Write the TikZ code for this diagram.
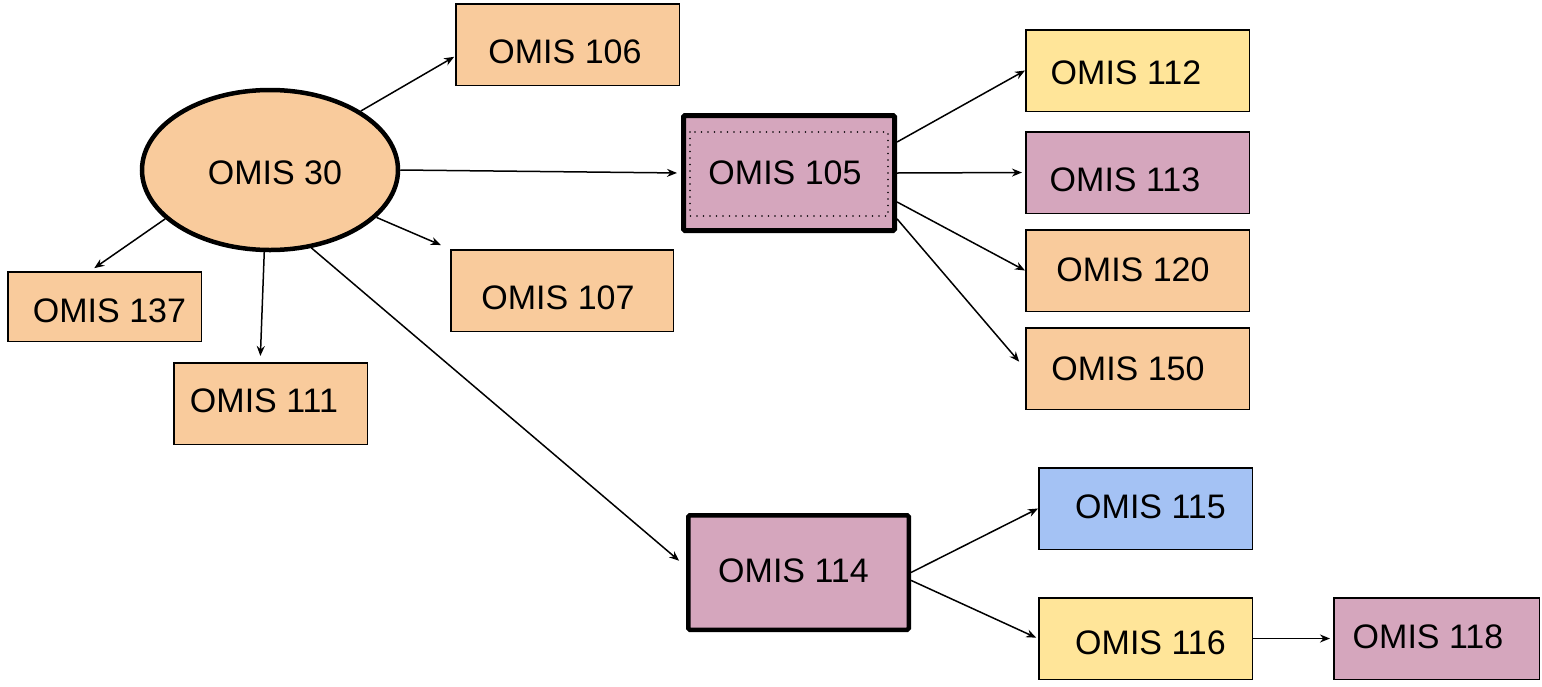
\documentclass[tikz,border=0pt]{standalone}
\usepackage{fontspec}
\setmainfont{Liberation Sans}
\usetikzlibrary{shapes.geometric,arrows.meta,calc}
\definecolor{corange}{HTML}{F9CB9C}
\definecolor{cpurple}{HTML}{D5A6BD}
\definecolor{cyellow}{HTML}{FFE599}
\definecolor{cblue}{HTML}{A4C2F4}
\newcommand{\tx}[3]{\raisebox{\dimexpr-12.2pt-#2pt\relax}[0pt][0pt]{\makebox[0pt]{\kern#1pt\kern#1pt #3}}}
\tikzset{
  box/.style={draw=black, line width=1.5pt, inner sep=0pt, minimum width=223.5pt, minimum height=81.5pt},
  thickbox/.style={draw=black, line width=4.5pt, rounded corners=1.5pt, inner sep=0pt},
  arr/.style={draw=black, line width=1.5pt, -{Stealth[length=10pt,width=8pt]}},
}
\begin{document}
\begin{tikzpicture}[x=1pt,y=-1pt,font=\fontsize{34}{40}\selectfont]
\useasboundingbox (0,0) rectangle (1542,686);
% main ellipse
\node[ellipse, draw=black, line width=4.5pt, fill=corange, minimum width=256pt, minimum height=160pt, inner sep=0pt] (n30) at (270,170) {\tx{5}{2}{OMIS 30}};
% first level
\node[box, fill=corange] (n106) at (567.5,44.5) {\tx{-2.5}{6.5}{OMIS 106}};
\node[box, fill=corange, minimum width=222.5pt] (n107) at (562,290.5) {\tx{-4}{6.5}{OMIS 107}};
\node[box, fill=corange, minimum width=193.5pt, minimum height=69.5pt] (n137) at (104.5,306.5) {\tx{5}{3.5}{OMIS 137}};
\node[box, fill=corange, minimum width=193.5pt] (n111) at (270.5,403.5) {\tx{-6.5}{-3.5}{OMIS 111}};
\node[thickbox, line width=5pt, fill=cpurple, minimum width=211pt, minimum height=115pt] (n105) at (789,173) {\tx{-4}{-1}{OMIS 105}};
\draw[line width=1.8pt, line cap=round, dash pattern=on 0pt off 6.5pt] ($(n105.north west)+(9,19)$) rectangle ($(n105.south east)+(-9,-17)$);
\node[thickbox, fill=cpurple, minimum width=220.5pt, minimum height=114.5pt] (n114) at (798.5,572.5) {\tx{-5}{-2.5}{OMIS 114}};
% second level
\node[box, fill=cyellow] (n112) at (1137.5,70.5) {\tx{-11.5}{1.5}{OMIS 112}};
\node[box, fill=cpurple] (n113) at (1137.5,172.5) {\tx{-12.5}{6.5}{OMIS 113}};
\node[box, fill=corange] (n120) at (1137.5,270.5) {\tx{-4.5}{-1.5}{OMIS 120}};
\node[box, fill=corange] (n150) at (1137.5,368.5) {\tx{-9.5}{-0.5}{OMIS 150}};
\node[box, fill=cblue, minimum width=213.5pt] (n115) at (1145.5,508.5) {\tx{5}{-2.5}{OMIS 115}};
\node[box, fill=cyellow, minimum width=213.5pt] (n116) at (1145.5,638.5) {\tx{5}{3.5}{OMIS 116}};
\node[box, fill=cpurple, minimum width=205.5pt] (n118) at (1436.5,638.5) {\tx{-8.5}{-2.5}{OMIS 118}};
% connectors from OMIS 30
\draw[arr, shorten >=1pt] (n30.33.7) -- (n106.186.8);
\draw[arr, shorten >=4pt] (n30.east) -- (n105.west);
\draw[arr, shorten >=10pt] (n30.-24) -- (n107.north west);
\draw[arr, shorten >=5pt] (n30.205) -- (n137.112);
\draw[arr, shorten >=6pt] (n30.266) -- (n111.104);
\draw[arr, shorten >=9pt] (n30.-62) -- (n114.177.7);
% connectors from OMIS 105
\draw[arr] (n105.16.8) -- (n112.west);
\draw[arr, shorten >=3pt] (n105.east) -- (n113.west);
\draw[arr] (n105.-15.4) -- (n120.west);
\draw[arr, shorten >=9pt] (n105.-23.3) -- (n150.west);
% connectors from OMIS 114
\draw[arr] (n114.east) -- (n115.west);
\draw[arr, shorten >=2pt] (n114.-4.8) -- (n116.west);
\draw[arr, shorten >=3pt] (n116.east) -- (n118.west);
\end{tikzpicture}
\end{document}
